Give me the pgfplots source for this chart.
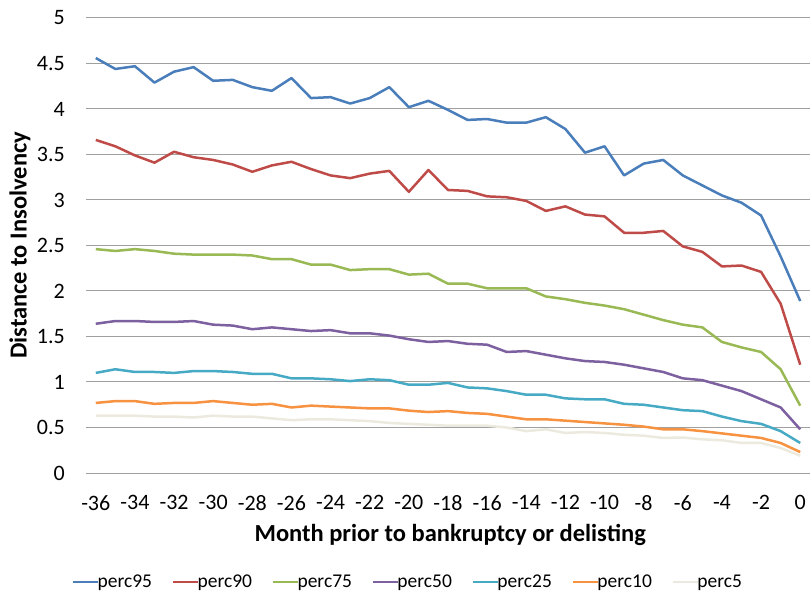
\documentclass[border=0pt]{standalone}
\usepackage{fontspec}
\setmainfont{Carlito}
\usepackage{pgfplots}
\usepackage{pgfplotstable}
\pgfplotsset{compat=1.18}
\definecolor{c95}{RGB}{74,126,187}
\definecolor{c90}{RGB}{190,75,72}
\definecolor{c75}{RGB}{152,185,84}
\definecolor{c50}{RGB}{125,96,160}
\definecolor{c25}{RGB}{70,170,197}
\definecolor{c10}{RGB}{246,146,64}
\definecolor{c5}{RGB}{236,234,222}
\definecolor{gridc}{RGB}{160,160,160}
\pgfplotstableread{
m p95 p90 p75 p50 p25 p10 p5
-36 4.56 3.66 2.46 1.64 1.10 0.77 0.63
-35 4.44 3.59 2.44 1.67 1.14 0.79 0.63
-34 4.47 3.49 2.46 1.67 1.11 0.79 0.63
-33 4.29 3.41 2.44 1.66 1.11 0.76 0.62
-32 4.41 3.53 2.41 1.66 1.10 0.77 0.62
-31 4.46 3.47 2.40 1.67 1.12 0.77 0.61
-30 4.31 3.44 2.40 1.63 1.12 0.79 0.63
-29 4.32 3.39 2.40 1.62 1.11 0.77 0.62
-28 4.24 3.31 2.39 1.58 1.09 0.75 0.62
-27 4.20 3.38 2.35 1.60 1.09 0.76 0.60
-26 4.34 3.42 2.35 1.58 1.04 0.72 0.58
-25 4.12 3.34 2.29 1.56 1.04 0.74 0.59
-24 4.13 3.27 2.29 1.57 1.03 0.73 0.59
-23 4.06 3.24 2.23 1.535 1.01 0.72 0.58
-22 4.12 3.29 2.24 1.535 1.03 0.71 0.57
-21 4.24 3.32 2.24 1.51 1.02 0.71 0.55
-20 4.02 3.09 2.18 1.47 0.97 0.685 0.54
-19 4.09 3.33 2.19 1.44 0.97 0.67 0.53
-18 3.99 3.11 2.08 1.45 0.99 0.68 0.52
-17 3.88 3.10 2.08 1.42 0.94 0.66 0.52
-16 3.89 3.04 2.03 1.41 0.93 0.65 0.52
-15 3.85 3.03 2.03 1.33 0.90 0.62 0.50
-14 3.85 2.99 2.03 1.34 0.86 0.59 0.46
-13 3.91 2.88 1.94 1.30 0.86 0.59 0.48
-12 3.78 2.93 1.91 1.26 0.82 0.575 0.44
-11 3.52 2.84 1.87 1.23 0.81 0.56 0.45
-10 3.59 2.82 1.84 1.22 0.81 0.545 0.44
-9 3.27 2.64 1.80 1.19 0.76 0.53 0.42
-8 3.40 2.64 1.74 1.15 0.75 0.51 0.41
-7 3.44 2.66 1.68 1.11 0.72 0.48 0.385
-6 3.27 2.49 1.63 1.04 0.69 0.48 0.39
-5 3.16 2.43 1.60 1.02 0.68 0.46 0.37
-4 3.05 2.27 1.44 0.96 0.62 0.435 0.36
-3 2.97 2.28 1.38 0.90 0.57 0.41 0.33
-2 2.83 2.21 1.33 0.81 0.54 0.385 0.33
-1 2.38 1.86 1.14 0.72 0.46 0.33 0.275
0 1.89 1.19 0.74 0.48 0.33 0.23 0.19
}\datatable
\begin{document}
\begin{tikzpicture}
\useasboundingbox (0,0) rectangle (810bp,594bp);
\begin{axis}[
  at={(86bp,121bp)}, anchor=south west,
  scale only axis, width=724bp, height=455bp,
  xmin=-36.5, xmax=0.5, ymin=0, ymax=5,
  xtick={-36,-34,...,0},
  ytick={0,0.5,...,5},
  axis line style={draw=none},
  major tick length=0pt,
  ymajorgrids, grid style={gridc, line width=1bp},
  /pgf/number format/assume math mode=true,
  ticklabel style={font=\fontsize{22bp}{26bp}\selectfont, inner sep=0pt},
  xticklabel style={anchor=north},
  yticklabel style={anchor=east},
  xticklabel shift=22bp,
  yticklabel shift=21bp,
  xlabel={Month prior to bankruptcy or delisting},
  ylabel={Distance to Insolvency},
  xlabel style={font=\fontsize{24.5bp}{28bp}\selectfont\bfseries, at={(axis description cs:0.503,-0.136)}, anchor=center},
  ylabel style={font=\fontsize{24.5bp}{28bp}\selectfont\bfseries, at={(axis description cs:-0.0912,0.5)}, anchor=center, rotate=0},
  legend columns=7,
  legend style={at={(axis description cs:0.4448,-0.2396)}, anchor=center, draw=none, fill=none,
    font=\fontsize{19.5bp}{22bp}\selectfont, inner sep=0pt,
    /tikz/every even column/.append style={column sep=18bp}},
  legend image code/.code={\draw[#1] (0bp,0bp) -- (25bp,0bp);},
  every axis plot/.append style={line width=2.5bp, line join=round},
  legend cell align=left,
]
\addplot[c95, no markers] table[x=m, y=p95] {\datatable};
\addlegendentry{\hspace{-4bp}perc95}
\addplot[c90, no markers] table[x=m, y=p90] {\datatable};
\addlegendentry{\hspace{-4bp}perc90}
\addplot[c75, no markers] table[x=m, y=p75] {\datatable};
\addlegendentry{\hspace{-4bp}perc75}
\addplot[c50, no markers] table[x=m, y=p50] {\datatable};
\addlegendentry{\hspace{-4bp}perc50}
\addplot[c25, no markers] table[x=m, y=p25] {\datatable};
\addlegendentry{\hspace{-4bp}perc25}
\addplot[c10, no markers] table[x=m, y=p10] {\datatable};
\addlegendentry{\hspace{-4bp}perc10}
\addplot[c5, no markers] table[x=m, y=p5] {\datatable};
\addlegendentry{\hspace{-4bp}perc5}
\end{axis}
\end{tikzpicture}
\end{document}
